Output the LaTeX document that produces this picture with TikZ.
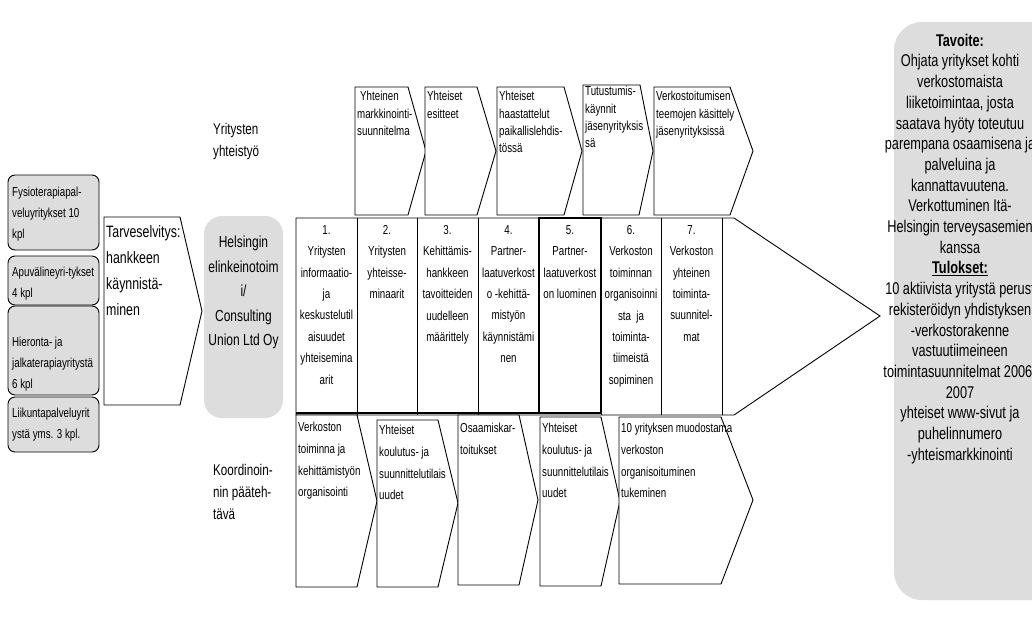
\documentclass[tikz,border=0pt]{standalone}
\usepackage{fontspec}
\setmainfont[FakeStretch=0.75]{Liberation Sans}
\definecolor{boxgray}{RGB}{221,221,221}
\begin{document}
\begin{tikzpicture}[x=1pt,y=-1pt,
  shp/.style={draw=black,line width=0.9pt,fill=white,line join=miter},
  gbox/.style={draw=black,line width=0.9pt,fill=boxgray,rounded corners=7pt},
  lefttxt/.style={inner sep=0pt,anchor=north west,align=left,font=\fontsize{13}{20.8}\selectfont},
  toptxt/.style={inner sep=0pt,anchor=north west,align=left,font=\fontsize{13}{17.2}\selectfont},
  midtxt/.style={inner sep=0pt,anchor=north,align=center,font=\fontsize{13}{21.4}\selectfont},
  bottxt/.style={inner sep=0pt,anchor=north west,align=left,font=\fontsize{13}{21.6}\selectfont},
  bigtxt/.style={inner sep=0pt,anchor=north west,align=left,font=\fontsize{15.5}{22}\selectfont}]
\useasboundingbox (0,0) rectangle (1032,624);
\fill[white] (0,0) rectangle (1032,624);

% right goal box
\fill[boxgray,rounded corners=28pt] (894,22) rectangle (1070,600);

% left gray boxes
\draw[gbox] (8,175) rectangle (99,250);
\draw[gbox] (8,256) rectangle (99,305);
\draw[gbox] (8,306) rectangle (99,395);
\draw[gbox] (8,397) rectangle (99,452);

% Tarveselvitys chevron
\draw[shp] (104,217) -- (180,217) -- (202,311) -- (180,405) -- (104,405) -- cycle;

% Helsingin box
\fill[boxgray,rounded corners=18pt] (204,216) rectangle (283,418);

% big arrow with columns
\draw[shp] (296,218) -- (734,218) -- (880,316) -- (734,415) -- (296,415) -- cycle;
\foreach \xx in {357,417,478,601,661,722} \draw[line width=0.9pt] (\xx,218) -- (\xx,415);
\draw[line width=1.2pt] (539,218) rectangle (601,413);
\draw[line width=1.2pt] (296,413) -- (601,413);

% top chevrons
\draw[shp] (355,87) -- (408,87) -- (426,151) -- (408,215) -- (355,215) -- cycle;
\draw[shp] (425,87) -- (477,87) -- (496,151) -- (477,215) -- (425,215) -- cycle;
\draw[shp] (497,87) -- (564,87) -- (582,151) -- (564,215) -- (497,215) -- cycle;
\draw[shp] (583,85) -- (640,85) -- (653,151) -- (639,215) -- (583,215) -- cycle;
\draw[shp] (654,87) -- (730,87) -- (753,151) -- (730,215) -- (654,215) -- cycle;

% bottom chevrons
\draw[shp] (296,415) -- (357,415) -- (377,501) -- (357,587) -- (296,587) -- cycle;
\draw[shp] (377,420) -- (438,420) -- (458,503) -- (438,587) -- (377,587) -- cycle;
\draw[shp] (458,415) -- (519,415) -- (538,500) -- (519,585) -- (458,585) -- cycle;
\draw[shp] (540,417) -- (601,417) -- (620,501) -- (601,586) -- (540,586) -- cycle;
\draw[shp] (619,417) -- (721,417) -- (753,500) -- (721,584) -- (619,584) -- cycle;

% left texts
\node[lefttxt] (fy) at (12,187.2) {Fysioterapiapal-\\veluyritykset 10\\kpl};
\node[lefttxt] (ap) at (12,267.2) {Apuvälineyri-tykset\\4 kpl};
\node[lefttxt] (hi) at (12,337.2) {Hieronta- ja\\jalkaterapiayritystä\\6 kpl};
\node[lefttxt] (li) at (12,408.2) {Liikuntapalveluyrit\\ystä yms. 3 kpl.};

\node[inner sep=0pt,anchor=north west,align=left,font=\fontsize{16.5}{26}\selectfont] (tarve) at (106,225.6) {Tarveselvitys:\\hankkeen\\käynnistä-\\minen};
\node[inner sep=0pt,anchor=north,align=center,font=\fontsize{16}{24.5}\selectfont] (hel) at (243.5,236) {Helsingin\\elinkeinotoim\\i/\\Consulting\\Union Ltd Oy};

\node[bigtxt] (yy) at (213,123.3) {Yritysten\\yhteistyö};
\node[bigtxt] (ko) at (213,464.3) {Koordinoin-\\nin pääteh-\\tävä};

% top chevron texts
\node[toptxt] (ta) at (357,91.2) {\hspace{3pt}Yhteinen\\markkinointi-\\suunnitelma};
\node[toptxt] (tb) at (427,91.2) {Yhteiset\\esitteet};
\node[toptxt] (tc) at (499,91.2) {Yhteiset\\haastattelut\\paikallislehdis-\\tössä};
\node[toptxt] (td) at (585,86.2) {Tutustumis-\\käynnit\\jäsenyrityksis\\sä};
\node[toptxt] (te) at (656,91.2) {Verkostoitumisen\\teemojen käsittely\\jäsenyrityksissä};

% middle column texts
\node[midtxt] (m1) at (326.5,225.2) {1.\\Yritysten\\informaatio-\\ja\\keskustelutil\\aisuudet\\yhteisemina\\arit};
\node[midtxt] (m2) at (387,225.2) {2.\\Yritysten\\yhteisse-\\minaarit};
\node[midtxt] (m3) at (447.5,225.2) {3.\\Kehittämis-\\hankkeen\\tavoitteiden\\uudelleen\\määrittely};
\node[midtxt] (m4) at (508.5,225.2) {4.\\Partner-\\laatuverkost\\o -kehittä-\\mistyön\\käynnistämi\\nen};
\node[midtxt] (m5) at (570,225.2) {5.\\Partner-\\laatuverkost\\on luominen};
\node[midtxt] (m6) at (631,225.2) {6.\\Verkoston\\toiminnan\\organisoinni\\sta\ \ ja\\toiminta-\\tiimeistä\\sopiminen};
\node[midtxt] (m7) at (691.5,225.2) {7.\\Verkoston\\yhteinen\\toiminta-\\suunnitel-\\mat};

% bottom chevron texts
\node[bottxt] (ba) at (298,422.2) {Verkoston\\toiminna ja\\kehittämistyön\\organisointi};
\node[bottxt] (bb) at (379,425.2) {Yhteiset\\koulutus- ja\\suunnittelutilais\\uudet};
\node[bottxt] (bc) at (460,423.2) {Osaamiskar-\\toitukset};
\node[bottxt] (bd) at (542,423.2) {Yhteiset\\koulutus- ja\\suunnittelutilais\\uudet};
\node[bottxt] (be) at (621,423.2) {10 yrityksen muodostama\\verkoston\\organisoituminen\\tukeminen};

% goal text
\node[inner sep=0pt,anchor=north,align=center,font=\fontsize{17}{20.7}\selectfont] (goal) at (960,33.7) {\textbf{Tavoite:}\\Ohjata yritykset kohti\\verkostomaista\\liiketoimintaa, josta\\saatava hyöty toteutuu\\parempana osaamisena ja\\palveluina ja\\kannattavuutena.\\Verkottuminen Itä-\\Helsingin terveysasemien\\kanssa\\\underline{\textbf{Tulokset:}}\\10 aktiivista yritystä perust\\rekisteröidyn yhdistyksen\\-verkostorakenne\\vastuutiimeineen\\toimintasuunnitelmat 2006-\\2007\\yhteiset www-sivut ja\\puhelinnumero\\-yhteismarkkinointi};
\end{tikzpicture}
\end{document}
